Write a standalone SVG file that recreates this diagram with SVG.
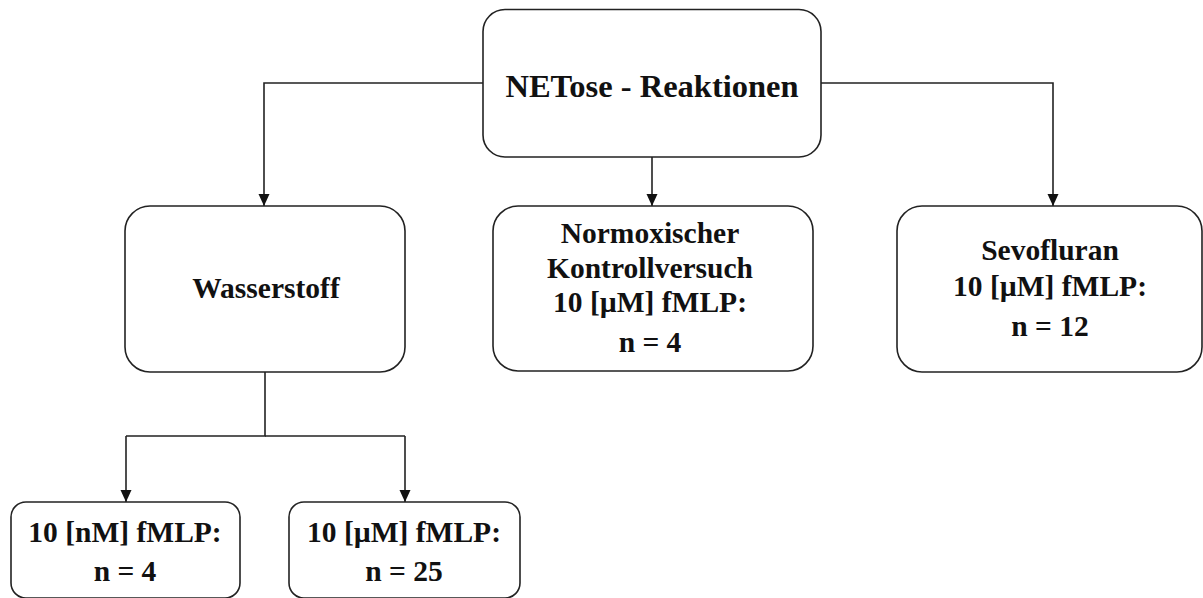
<svg xmlns="http://www.w3.org/2000/svg" width="1203" height="598" viewBox="0 0 1203 598">
  <defs>
    <marker id="arrow" viewBox="0 0 12 12" refX="12" refY="6" markerWidth="12" markerHeight="12" markerUnits="userSpaceOnUse" orient="auto">
      <path d="M0,0.5 L12,6 L0,11.5 Z" fill="#111"/>
    </marker>
    <style>
      .box { fill: #fff; stroke: #222; stroke-width: 1.6; }
      .edge { fill: none; stroke: #222; stroke-width: 1.6; marker-end: url(#arrow); }
      .line { fill: none; stroke: #222; stroke-width: 1.6; }
      text { font-family: "Liberation Serif", "Times New Roman", serif; font-weight: bold; fill: #111; text-anchor: middle; }
      .title { font-size: 32.5px; }
      .lbl { font-size: 29.5px; }
    </style>
  </defs>
  <rect width="1203" height="598" fill="#fff"/>

  <g id="connectors">
    <path class="edge" d="M483,83 H264 V206"/>
    <path class="edge" d="M652,157 V206"/>
    <path class="edge" d="M821,83 H1053 V206"/>
    <path class="line" d="M265,372 V436 H126"/>
    <path class="line" d="M265,436 H405"/>
    <path class="edge" d="M126,436 V502"/>
    <path class="edge" d="M405,436 V502"/>
  </g>

  <g id="netose">
    <rect class="box" x="483" y="9.5" width="338" height="147.5" rx="22"/>
    <text class="title" x="652" y="97">NETose - Reaktionen</text>
  </g>

  <g id="wasserstoff">
    <rect class="box" x="125" y="206" width="280" height="166" rx="25"/>
    <text class="lbl" x="266" y="298">Wasserstoff</text>
  </g>

  <g id="normoxisch">
    <rect class="box" x="493" y="206" width="320" height="165" rx="25"/>
    <text class="lbl" x="650" y="243">Normoxischer</text>
    <text class="lbl" x="650" y="278">Kontrollversuch</text>
    <text class="lbl" x="650" y="312">10 [µM] fMLP:</text>
    <text class="lbl" x="650" y="352">n = 4</text>
  </g>

  <g id="sevofluran">
    <rect class="box" x="897" y="206" width="305" height="166" rx="25"/>
    <text class="lbl" x="1050" y="260">Sevofluran</text>
    <text class="lbl" x="1050" y="296">10 [µM] fMLP:</text>
    <text class="lbl" x="1050" y="336">n = 12</text>
  </g>

  <g id="nm-fmlp">
    <rect class="box" x="11" y="502" width="229" height="96" rx="15"/>
    <text class="lbl" x="125" y="542">10 [nM] fMLP:</text>
    <text class="lbl" x="125" y="581">n = 4</text>
  </g>

  <g id="um-fmlp">
    <rect class="box" x="289" y="502" width="231" height="96" rx="15"/>
    <text class="lbl" x="404" y="542">10 [µM] fMLP:</text>
    <text class="lbl" x="404" y="581">n = 25</text>
  </g>
</svg>
